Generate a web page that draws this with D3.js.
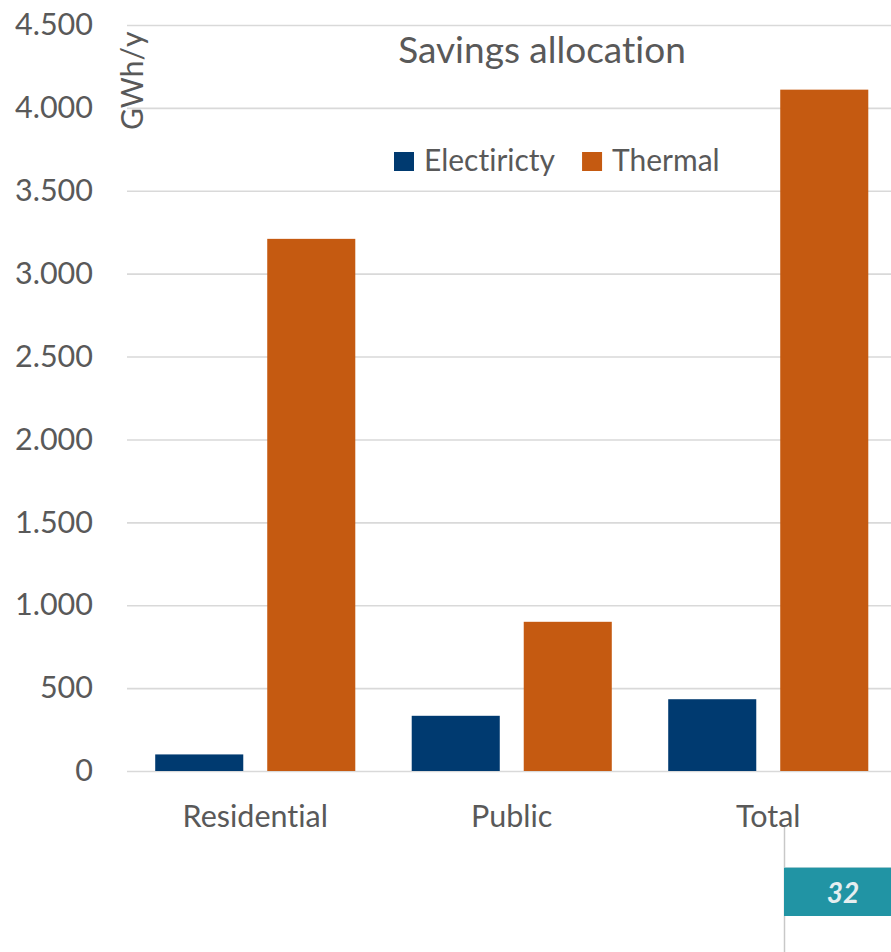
<!DOCTYPE html>
<html>
<head>
<meta charset="utf-8">
<script src="https://cdn.jsdelivr.net/npm/d3@7/dist/d3.min.js"></script>
<style>
  html, body { margin: 0; padding: 0; background: #ffffff; }
  svg { display: block; }
  text { font-family: Lato, "Open Sans", sans-serif; fill: #595959;
         font-variant-ligatures: none; font-feature-settings: "liga" 0, "clig" 0; }
</style>
</head>
<body>
<svg id="chart" width="891" height="952"></svg>
<script>
// Savings allocation by sector, GWh per year
const categories = ["Residential", "Public", "Total"];
const seriesNames = ["Electiricty", "Thermal"];
const electricity = [100, 333, 433];
const thermal = [3210, 900, 4110];
const yTicks = [0, 500, 1000, 1500, 2000, 2500, 3000, 3500, 4000, 4500];
const chartTitle = "Savings allocation";
const yTitle = "GWh/y";
const pageNumber = "32";

const colors = { "Electiricty": "#003a70", "Thermal": "#c55a11" };

const W = 891, H = 952;
const plot = { left: 127, right: 896.5, top: 25, bottom: 771 };

const svg = d3.select("#chart");

// thousands separator is a dot
const fmt = d3.formatLocale({ decimal: ",", thousands: ".", grouping: [3], currency: ["", ""] }).format(",");

const y = d3.scaleLinear().domain([0, 4500]).range([plot.bottom, plot.top]);
const x0 = d3.scaleBand().domain(categories).range([plot.left, plot.right])
  .paddingInner(0.22).paddingOuter(0.11);
const x1 = d3.scaleBand().domain(seriesNames).range([0, x0.bandwidth()])
  .paddingInner(0.214).paddingOuter(0);

const rows = categories.map((c, i) => ({
  category: c,
  values: [
    { key: seriesNames[0], value: electricity[i] },
    { key: seriesNames[1], value: thermal[i] }
  ]
}));

// gridlines and tick labels
const yAxis = d3.axisLeft(y).tickValues(yTicks).tickFormat(fmt)
  .tickSize(-(plot.right - plot.left)).tickPadding(34);
const gy = svg.append("g").attr("transform", `translate(${plot.left},0)`).call(yAxis);
gy.select(".domain").remove();
gy.selectAll(".tick line").attr("stroke", "#d9d9d9").attr("stroke-width", 1.6);
gy.selectAll(".tick text")
  .style("font-family", "Lato, sans-serif")
  .style("font-size", "30.5px")
  .attr("fill", "#595959");

// bars
const groups = svg.append("g").selectAll("g").data(rows).join("g")
  .attr("transform", d => `translate(${x0(d.category)},0)`);
groups.selectAll("rect").data(d => d.values).join("rect")
  .attr("x", d => x1(d.key))
  .attr("width", x1.bandwidth())
  .attr("y", d => y(d.value))
  .attr("height", d => y(0) - y(d.value))
  .attr("fill", d => colors[d.key]);

// category labels
const xAxis = d3.axisBottom(x0).tickSize(0).tickPadding(34);
const gx = svg.append("g").attr("transform", `translate(0,${plot.bottom})`).call(xAxis);
gx.select(".domain").remove();
gx.selectAll(".tick text")
  .style("font-family", "Lato, sans-serif")
  .style("font-size", "30.5px")
  .attr("fill", "#595959");

// y axis title
svg.append("text")
  .attr("transform", "translate(143,130) rotate(-90)")
  .attr("text-anchor", "start")
  .style("font-size", "30px")
  .text(yTitle);

// chart title
svg.append("text")
  .attr("x", 542).attr("y", 63)
  .attr("text-anchor", "middle")
  .style("font-size", "37px")
  .text(chartTitle);

// legend
const legend = svg.append("g").attr("transform", "translate(394,152)");
let lx = 0;
seriesNames.forEach(name => {
  const item = legend.append("g").attr("transform", `translate(${lx},0)`);
  item.append("rect").attr("width", 20).attr("height", 19).attr("fill", colors[name]);
  const t = item.append("text").attr("x", 30).attr("y", 19)
    .style("font-size", "30px").text(name);
  lx += 30 + t.node().getComputedTextLength() + 27;
});

// page marker
svg.append("line")
  .attr("x1", 784.5).attr("x2", 784.5).attr("y1", 827).attr("y2", H)
  .attr("stroke", "#c8c8c8").attr("stroke-width", 1.5);
svg.append("rect")
  .attr("x", 784).attr("y", 867).attr("width", W - 784).attr("height", 49)
  .attr("fill", "#2194a4");
svg.append("line")
  .attr("x1", 784).attr("x2", W).attr("y1", 867.5).attr("y2", 867.5)
  .attr("stroke", "#9cc9cf").attr("stroke-width", 1);
svg.append("text")
  .attr("x", 843).attr("y", 903)
  .attr("text-anchor", "middle")
  .style("font-size", "28px").style("font-weight", "bold").style("font-style", "italic")
  .style("fill", "#e6eef0")
  .text(pageNumber);
</script>
</body>
</html>
